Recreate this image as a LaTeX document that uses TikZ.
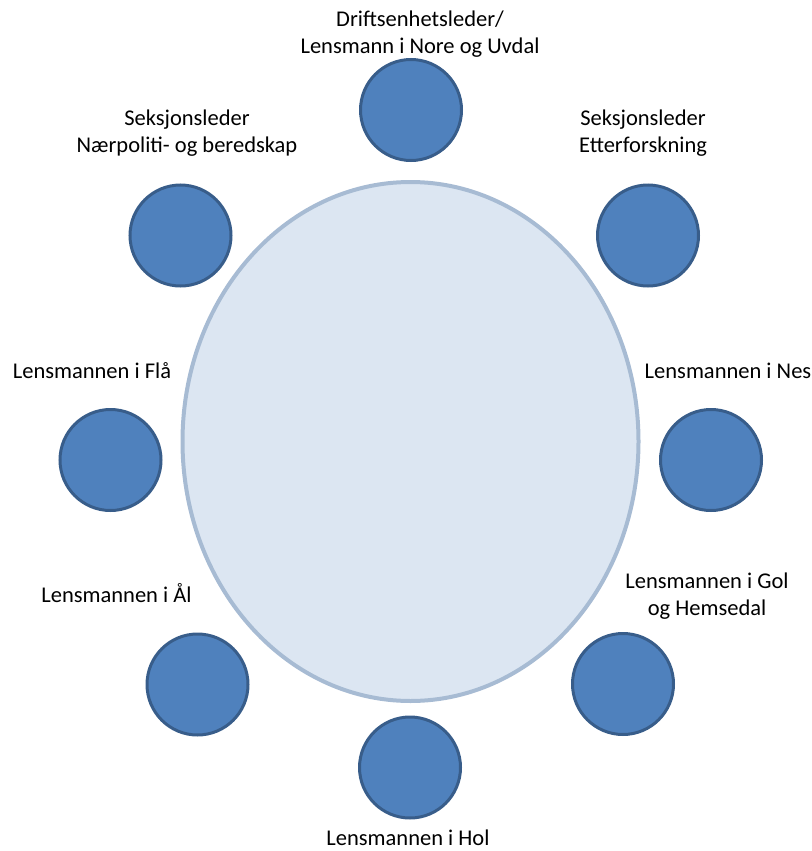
\documentclass[tikz,border=0pt]{standalone}
\usepackage{fontspec}
\setmainfont{Carlito}
\usetikzlibrary{shapes.geometric}
\definecolor{seatfill}{RGB}{79,129,189}
\definecolor{seatline}{RGB}{56,93,138}
\definecolor{tablefill}{RGB}{220,230,242}
\definecolor{tableline}{RGB}{167,187,211}
\begin{document}
\begin{tikzpicture}[x=1pt,y=-1pt,
    seat/.style={circle,draw=seatline,fill=seatfill,line width=3pt,minimum size=101pt,inner sep=0pt},
    tbl/.style={ellipse,draw=tableline,fill=tablefill,line width=4pt,minimum width=456pt,minimum height=519pt,inner sep=0pt},
    lbl/.style={align=center,anchor=base,font=\fontsize{22.5}{26.5}\selectfont,inner sep=0pt}]
  \useasboundingbox (0,0) rectangle (811,851);
  % table and seats
  \node[tbl] (table) at (410.5,441.5) {};
  \node[seat] (top) at (411,110) {};
  \node[seat] (ul) at (180.5,235.5) {};
  \node[seat] (ur) at (648,235.5) {};
  \node[seat] (left) at (110.5,460) {};
  \node[seat] (right) at (711,460) {};
  \node[seat] (ll) at (197.5,684.5) {};
  \node[seat] (lr) at (623,684) {};
  \node[seat] (bottom) at (410,767.5) {};
  % labels (base = last line)
  \node[lbl] (ltop) at (420,53) {Driftsenhetsleder/\\Lensmann i Nore og Uvdal};
  \node[lbl] (lul) at (187,152) {Seksjonsleder\\Nærpoliti- og beredskap};
  \node[lbl] (lur) at (643,152) {Seksjonsleder\\Etterforskning};
  \node[lbl] (lleft) at (92,378) {Lensmannen i Flå};
  \node[lbl] (lright) at (728,378) {Lensmannen i Nes};
  \node[lbl] (lll) at (116.5,602) {Lensmannen i Ål};
  \node[lbl] (llr) at (707,615) {Lensmannen i Gol\\og Hemsedal};
  \node[lbl] (lbottom) at (408,845) {Lensmannen i Hol};
\end{tikzpicture}
\end{document}
